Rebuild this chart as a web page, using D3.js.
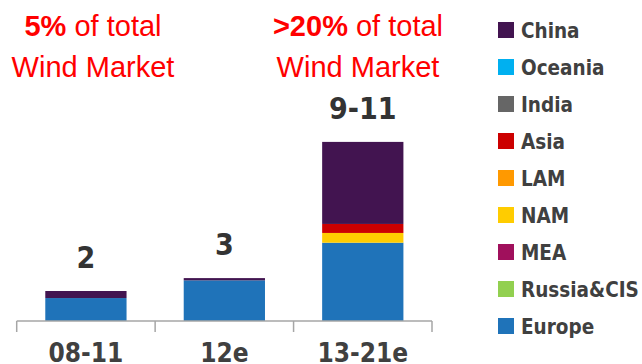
<!DOCTYPE html>
<html>
<head>
<meta charset="utf-8">
<script src="https://cdn.jsdelivr.net/npm/d3@7"></script>
<style>
  html, body { margin: 0; padding: 0; background: #fff; }
  svg { display: block; }
</style>
</head>
<body>
<svg id="chart" width="642" height="364"></svg>
<script>
// Wind market volume by region (stacked), three periods
const categories = ["08-11", "12e", "13-21e"];
const totalLabels = ["2", "3", "9-11"];

// Stack order, bottom to top
const regions = ["Europe", "Russia&CIS", "MEA", "NAM", "LAM", "Asia", "India", "Oceania", "China"];
const europe   = [1.53, 2.71, 5.22];
const russia   = [0, 0, 0];
const mea      = [0, 0, 0];
const nam      = [0, 0, 0.65];
const lam      = [0, 0, 0];
const asia     = [0, 0, 0.60];
const india    = [0, 0, 0];
const oceania  = [0, 0, 0];
const china    = [0.47, 0.15, 5.47];

const regionColors = ["#1F73B9", "#92D050", "#A0105C", "#FFCC00", "#FF9900", "#CC0000", "#666666", "#00B0F0", "#421450"];

const seriesValues = [europe, russia, mea, nam, lam, asia, india, oceania, china];

// Build row table for d3.stack
const rows = categories.map((c, i) => {
  const r = { category: c };
  regions.forEach((g, k) => { r[g] = seriesValues[k][i]; });
  return r;
});

const svg = d3.select("#chart");

const x = d3.scaleBand().domain(categories).range([16.7, 432]).paddingInner(0.413).paddingOuter(0.2065);
const y = d3.scaleLinear().domain([0, 12]).range([321, 141]);
const color = d3.scaleOrdinal().domain(regions).range(regionColors);

const stacked = d3.stack().keys(regions)(rows);

// Bars
svg.append("g").selectAll("g")
  .data(stacked)
  .join("g")
  .attr("fill", d => color(d.key))
  .selectAll("rect")
  .data(d => d)
  .join("rect")
  .attr("x", d => x(d.data.category))
  .attr("width", x.bandwidth())
  .attr("y", d => y(d[1]))
  .attr("height", d => Math.max(0, y(d[0]) - y(d[1])));

// Category axis: baseline with ticks between categories
const step = x.step();
const axisG = svg.append("g").attr("stroke", "#A6A6A6").attr("stroke-width", 1.5);
axisG.append("line")
  .attr("x1", x.range()[0]).attr("x2", x.range()[1])
  .attr("y1", y(0)).attr("y2", y(0));
const tickXs = d3.range(categories.length + 1).map(i => x.range()[0] + i * step);
axisG.selectAll("line.tick")
  .data(tickXs)
  .join("line")
  .attr("class", "tick")
  .attr("x1", d => d).attr("x2", d => d)
  .attr("y1", y(0)).attr("y2", y(0) + 11);

svg.append("g").selectAll("text")
  .data(categories)
  .join("text")
  .attr("x", d => x(d) + x.bandwidth() / 2)
  .attr("y", 361.5)
  .attr("text-anchor", "middle")
  .attr("font-family", "DejaVu Sans Condensed")
  .attr("font-weight", "bold")
  .attr("font-size", 26)
  .attr("fill", "#404040")
  .text(d => d);

// Totals above bars
const totals = rows.map(r => d3.sum(regions, g => r[g]));
svg.append("g").selectAll("text")
  .data(categories)
  .join("text")
  .attr("x", d => x(d) + x.bandwidth() / 2)
  .attr("y", (d, i) => y(totals[i]) - 23)
  .attr("text-anchor", "middle")
  .attr("font-family", "DejaVu Sans Condensed")
  .attr("font-weight", "bold")
  .attr("font-size", 30)
  .attr("fill", "#333333")
  .text((d, i) => totalLabels[i]);

// Market share call-outs
const callouts = [
  { bold: "5%", rest: " of total", cx: 93 },
  { bold: ">20%", rest: " of total", cx: 358 }
];
callouts.forEach(c => {
  const t1 = svg.append("text")
    .attr("x", c.cx).attr("y", 35.5)
    .attr("text-anchor", "middle")
    .attr("font-family", "Liberation Sans")
    .attr("font-size", 29)
    .attr("fill", "#FF0000");
  t1.append("tspan").attr("font-weight", "bold").text(c.bold);
  t1.append("tspan").text(c.rest);
  svg.append("text")
    .attr("x", c.cx).attr("y", 77)
    .attr("text-anchor", "middle")
    .attr("font-family", "Liberation Sans")
    .attr("font-size", 29)
    .attr("fill", "#FF0000")
    .text("Wind Market");
});

// Legend, top to bottom in reverse stack order
const legendItems = regions.slice().reverse();
const legend = svg.append("g").selectAll("g")
  .data(legendItems)
  .join("g")
  .attr("transform", (d, i) => `translate(498, ${22 + i * 37})`);
legend.append("rect")
  .attr("width", 16).attr("height", 16)
  .attr("fill", d => color(d));
legend.append("text")
  .attr("x", 23).attr("y", 15.5)
  .attr("font-family", "DejaVu Sans Condensed")
  .attr("font-weight", "bold")
  .attr("font-size", 20.5)
  .attr("fill", "#404040")
  .text(d => d);
</script>
</body>
</html>
